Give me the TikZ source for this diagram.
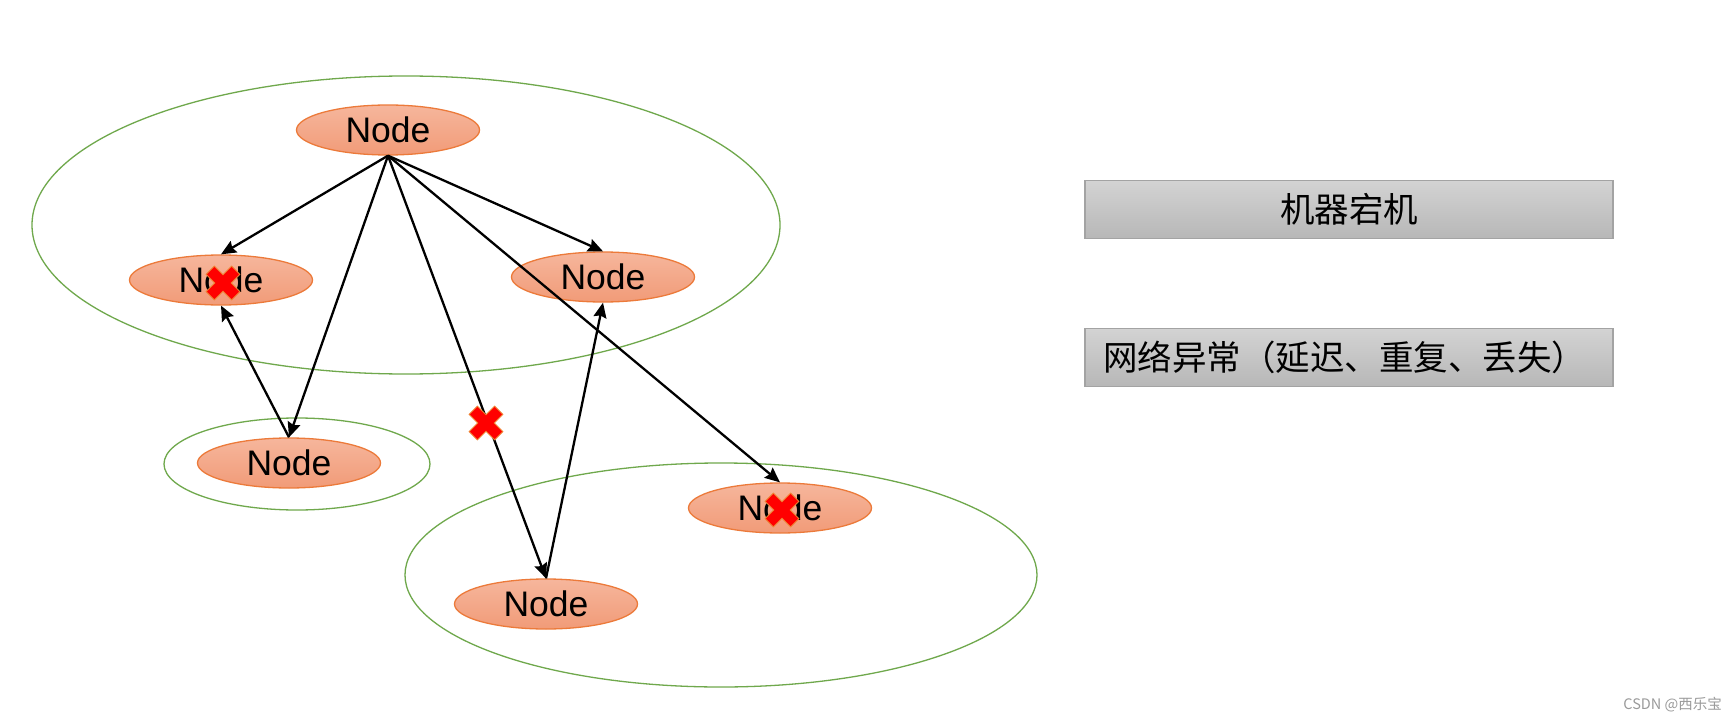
\documentclass[tikz,border=0pt]{standalone}
\usepackage{fontspec}
\setmainfont{Liberation Sans}
\newfontfamily\cjk{Noto Sans CJK SC}
\usetikzlibrary{shapes.geometric,arrows.meta}
\definecolor{nodetop}{HTML}{F6B69C}
\definecolor{nodebot}{HTML}{F19B78}
\definecolor{nodeedge}{HTML}{EC7A3A}
\definecolor{grp}{HTML}{6FA84C}
\definecolor{boxtop}{HTML}{D3D3D3}
\definecolor{boxbot}{HTML}{B7B7B7}
\definecolor{boxedge}{HTML}{A3A3A3}
\definecolor{xred}{HTML}{FF0000}
\definecolor{xedge}{HTML}{F08030}
\definecolor{wmark}{HTML}{9A9A9A}
\tikzset{
  nodeel/.style={ellipse, draw=nodeedge, line width=1.3pt, top color=nodetop, bottom color=nodebot,
    minimum width=183pt, minimum height=50pt, inner sep=0pt, font=\fontsize{35.5}{40}\selectfont},
  group/.style={ellipse, draw=grp, line width=1.3pt, inner sep=0pt},
  legend/.style={rectangle, draw=boxedge, line width=1.5pt, top color=boxtop, bottom color=boxbot,
    minimum width=528pt, minimum height=58pt, inner sep=0pt, font=\cjk\fontsize{34.5}{40}\selectfont},
  link/.style={line width=2.3pt, -{Stealth[length=15pt,width=13pt,inset=2pt]}},
  xmark/.pic={\fill[xred, draw=xedge, line width=0.8pt, rotate=45]
    (-18,-5.8) -- (-5.8,-5.8) -- (-5.8,-18) -- (5.8,-18) -- (5.8,-5.8) -- (18,-5.8) --
    (18,5.8) -- (5.8,5.8) -- (5.8,18) -- (-5.8,18) -- (-5.8,5.8) -- (-18,5.8) -- cycle;}
}
\begin{document}
\begin{tikzpicture}[x=1pt,y=-1pt]
\fill[white] (0,0) rectangle (1736,722);
\useasboundingbox (0,0) rectangle (1736,722);
% groups
\node[group, minimum width=748pt, minimum height=298pt] (g1) at (406,225) {};
\node[group, minimum width=266pt, minimum height=92pt] (g2) at (297,464) {};
\node[group, minimum width=632pt, minimum height=224pt] (g3) at (721,575) {};
% nodes
\node[nodeel] (top) at (388,130) {Node};
\node[nodeel] (left) at (221,280) {Node};
\node[nodeel] (right) at (603,277) {Node};
\node[nodeel] (small) at (289,463) {Node};
\node[nodeel] (dead) at (780,508) {Node};
\node[nodeel] (bottom) at (546,604) {Node};
% connectors
\draw[link] (top.south) -- (left.north);
\draw[link] (top.south) -- (small.north);
\draw[link] (top.south) -- (bottom.north);
\draw[link] (top.south) -- (right.north);
\draw[link] (top.south) -- (dead.north);
\draw[link] (small.north) -- (left.south);
\draw[link] (bottom.north) -- (right.south);
% crosses
\pic (xleft) at (223,283) {xmark};
\pic (xdead) at (782,510) {xmark};
\pic (xlink) at (486,423) {xmark};
% legend
\node[legend] (crash) at (1349,209.5) {机器宕机};
\node[legend, text width=492pt, align=left, inner xsep=18pt] (net) at (1349,357.5) {网络异常（延迟、重复、丢失）};
% watermark
\node[anchor=east, inner sep=0pt, text=wmark, font=\cjk\fontsize{14.5}{16}\selectfont] (wm) at (1722,705) {CSDN @西乐宝};
\end{tikzpicture}
\end{document}
